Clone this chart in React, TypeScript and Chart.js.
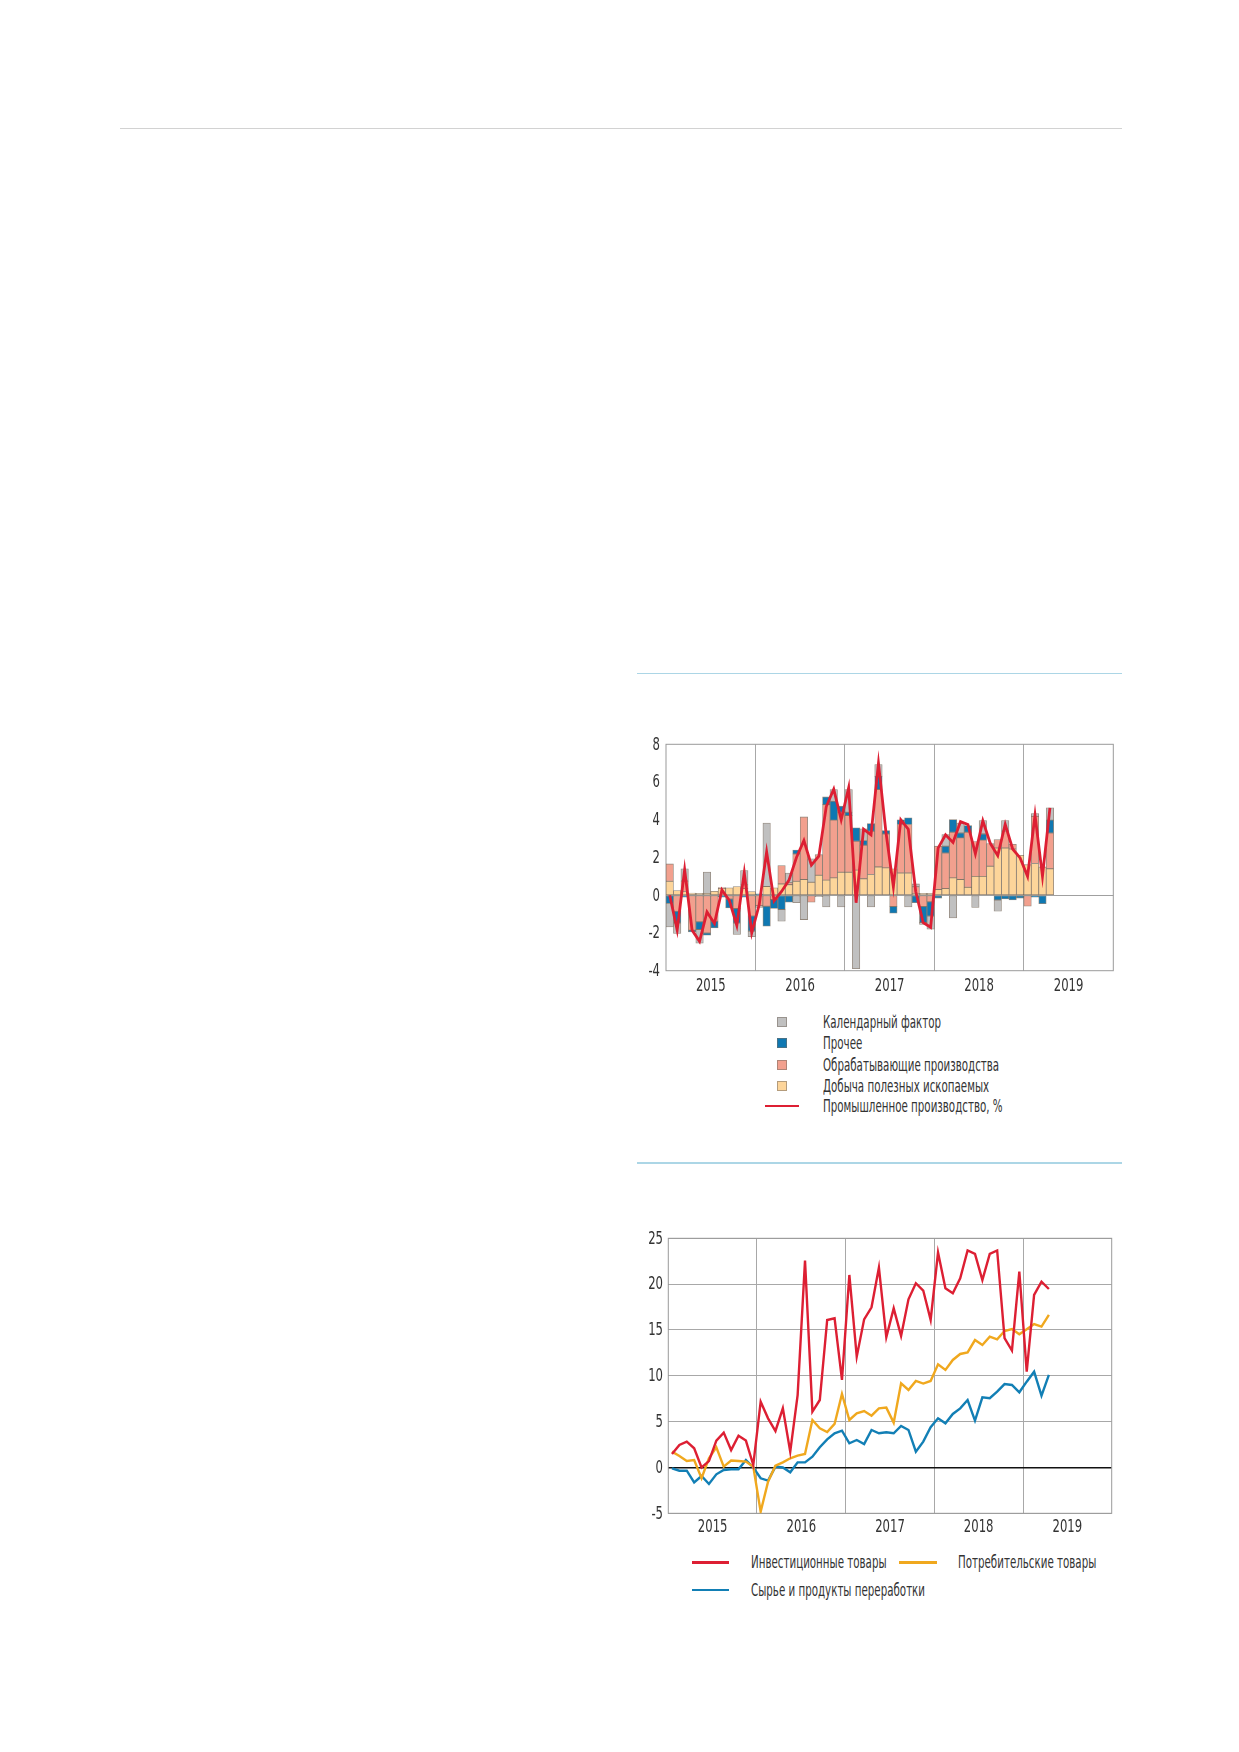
import React, { useEffect, useRef } from 'react';
import { Chart, registerables } from 'chart.js';

Chart.register(...registerables);

// ---------- categories ----------
const YEARS = ['2015', '2016', '2017', '2018', '2019'];
const MONTHS = YEARS.flatMap((y) =>
  ['01', '02', '03', '04', '05', '06', '07', '08', '09', '10', '11', '12'].map((m) => `${y}-${m}`)
).slice(0, 52);

// ---------- chart 1: contributions, p.p. ----------
const MINING = [0.74, 0.25, 0.2, 0.12, 0.1, 0.1, 0.21, 0.35, 0.39, 0.46, 0.35, 0.2, 0.0,
  0.46, 0.39, 0.6, 0.56, 0.74, 0.83, 0.69, 1.06, 0.8, 0.92, 1.22,
  1.22, 1.33, 0.87, 1.1, 1.5, 1.45, 1.4, 1.18, 1.18, 0.1, 0.1, 0.1,
  0.3, 0.35, 0.92, 0.83, 0.42, 1.0, 1.0, 1.54, 2.5, 2.5, 2.45, 2.12,
  1.62, 1.68, 1.5, 1.4];
const MANUF = [0.92, -0.85, 0.55, -1.85, -1.41, -2.0, -1.38, 0.05, -0.2, -0.7, 0.2, -1.1, -0.55,
  -0.58, -0.23, 0.97, 0.1, 1.45, 3.32, -0.37, 1.09, 4.0, 3.06, 3.18,
  3.0, 1.53, 1.78, 2.29, 4.1, 1.8, -0.6, 2.57, 2.57, 0.35, -0.6, -0.35,
  2.3, 1.89, 2.42, 2.21, 2.92, 1.85, 1.92, 1.2, 0.45, 0.9, 0.25, 0,
  -0.58, 2.5, 0, 1.9];
const OTHER = [-0.44, -0.62, -0.1, -0.1, -0.41, -0.12, -0.35, -0.1, -0.47, -0.77, -0.1, -0.8, 0.08,
  -1.06, -0.47, -0.76, -0.37, 0.2, 0, 0, 0, 0.41, 1.0, 0.32,
  0.18, 0.71, 0.25, 0.41, 0.7, 0.18, -0.35, 0.25, 0.35, -0.4, -0.85, -0.75,
  -0.15, 0.36, 0.67, 0.26, 0.35, 0, 0.33, 0, -0.25, -0.2, -0.25, -0.15,
  0, -0.1, -0.45, 0.68];
const CALENDAR = [-1.24, -0.56, 0.65, 0, -0.72, 1.13, 0, 0, 0, -0.61, 0.76, -0.3, -0.1,
  3.37, 0, -0.62, 0.52, -0.4, -1.29, 1.24, -0.08, -0.62, 0.62, -0.62,
  1.2, -3.89, 0.62, -0.62, 0.63, 0, 0, 0, -0.62, 0.15, -0.1, -0.7,
  0, 0.62, -1.2, 0.53, 0, -0.65, 0.71, 0, -0.6, 0.56, 0, 0,
  0, 0.15, 0, 0.65];
const INDPROD = [0.0, -1.85, 1.35, -1.85, -2.44, -0.89, -1.5, 0.28, -0.28, -1.6, 1.2, -2.0, -0.5,
  2.3, -0.3, 0.2, 0.8, 2.0, 2.9, 1.6, 2.07, 4.7, 5.62, 4.0,
  5.7, -0.4, 3.5, 3.2, 7.0, 3.35, 0.45, 4.0, 3.5, 0.2, -1.45, -1.7,
  2.5, 3.2, 2.8, 3.9, 3.75, 2.2, 3.95, 2.75, 2.1, 3.76, 2.45, 1.98,
  1.0, 4.25, 1.0, 4.63];

// ---------- chart 2: output growth, % ----------
const INVEST = [1.47, 2.45, 2.82, 2.09, 0.0, 0.7, 2.93, 3.8, 1.9, 3.47, 2.93, 0.27,
  7.18, 5.36, 3.98, 6.45, 1.73, 7.9, 22.56, 6.09, 7.36, 16.09, 16.27, 9.55,
  21.0, 12.09, 16.16, 17.47, 21.8, 14.2, 17.36, 14.35, 18.35, 20.1, 19.3, 16.1,
  23.45, 19.55, 19.0, 20.64, 23.67, 23.3, 20.45, 23.3, 23.67, 14.1, 12.75, 21.36,
  10.45, 18.82, 20.27, 19.47];
const CONSUMER = [1.73, 1.25, 0.71, 0.82, -1.18, 1.0, 2.2, 0.09, 0.75, 0.71, 0.64, 0.09,
  -4.82, -1.55, 0.2, 0.56, 1.0, 1.3, 1.47, 5.18, 4.27, 3.87, 4.75, 8.02,
  5.18, 5.91, 6.16, 5.65, 6.45, 6.53, 4.89, 9.18, 8.45, 9.44, 9.15, 9.44,
  11.25, 10.64, 11.73, 12.38, 12.56, 13.9, 13.36, 14.27, 13.98, 14.89, 15.1, 14.53,
  15.07, 15.65, 15.36, 16.64];
const RAW = [-0.09, -0.35, -0.35, -1.62, -0.93, -1.8, -0.75, -0.27, -0.2, -0.2, 0.82, 0.0,
  -1.18, -1.44, 0.09, 0.0, -0.53, 0.56, 0.56, 1.18, 2.2, 3.07, 3.73, 4.02,
  2.64, 3.0, 2.56, 4.09, 3.73, 3.84, 3.73, 4.53, 4.09, 1.73, 2.82, 4.4,
  5.36, 4.82, 5.84, 6.45, 7.36, 5.11, 7.65, 7.55, 8.27, 9.1, 9.0, 8.2,
  9.36, 10.45, 7.84, 10.1];

const LEGEND1 = ['Календарный фактор', 'Прочее', 'Обрабатывающие производства', 'Добыча полезных ископаемых', 'Промышленное производство, %'];
const LEGEND2 = ['Инвестиционные товары', 'Потребительские товары', 'Сырье и продукты переработки'];

// ---------- styles ----------
const FONT = "'Liberation Sans Narrow', 'DejaVu Sans Condensed', 'Roboto', sans-serif";
const TXT = '#333333';
const C_GREY = '#c0c0c0';
const C_BLUE = '#0f78b2';
const C_PINK = '#f2a08e';
const C_YELLOW = '#fdd59a';
const C_RED = '#dd1f33';
const C_ORANGE = '#f0a81e';
const C_LBLUE = '#127fb5';
const BAR_EDGE = 'rgba(110,95,80,0.75)';
const GRID = '#a8a8a8';
const TICK_SIZE = 18.5;
const SX_TICK = 0.7;
const LEG_SIZE = 18;
const SX_LEG = 0.635;

const pts = (arr: number[]) => arr.map((v, i) => ({ x: i + 0.5, y: v === 0 ? null : v }));
const ptsLine = (arr: number[]) => arr.map((v, i) => ({ x: i + 0.5, y: v }));

const yearTick = (v: any) => {
  const n = Number(v);
  return n % 12 === 6 ? YEARS[(n - 6) / 12] : '';
};
const yearGrid = (c: any) => {
  const v = c.tick && c.tick.value;
  return v > 0 && v < 60 && v % 12 === 0 ? GRID : 'rgba(0,0,0,0)';
};

const framePlugin = {
  id: 'frame',
  beforeDatasetsDraw(chart: any) {
    const { ctx, chartArea: a } = chart;
    ctx.save();
    ctx.strokeStyle = '#9a9a9a';
    ctx.lineWidth = 1;
    ctx.strokeRect(a.left, a.top, a.right - a.left, a.bottom - a.top);
    ctx.restore();
  },
};

// draws the scales' tick labels in a condensed form (the reference uses a narrow typeface)
const tickTextPlugin = {
  id: 'tickText',
  afterDraw(chart: any, _args: any, opts: any) {
    const ctx = chart.ctx;
    const xs = chart.scales.x;
    const ys = chart.scales.y;
    ctx.save();
    ctx.font = `${TICK_SIZE}px ${FONT}`;
    ctx.fillStyle = TXT;
    ctx.textBaseline = 'middle';
    ctx.textAlign = 'center';
    xs.ticks.forEach((t: any) => {
      const label = yearTick(t.value);
      if (!label) return;
      ctx.save();
      ctx.translate(xs.getPixelForValue(t.value), xs.top + opts.xGap);
      ctx.scale(SX_TICK, 1);
      ctx.fillText(label, 0, 0);
      ctx.restore();
    });
    ctx.textAlign = 'right';
    ys.ticks.forEach((t: any) => {
      ctx.save();
      ctx.translate(ys.right - opts.yGap, ys.getPixelForValue(t.value) + 0.5);
      ctx.scale(SX_TICK, 1);
      ctx.fillText(String(t.value), 0, 0);
      ctx.restore();
    });
    ctx.restore();
  },
};

function xScale(height: number) {
  return {
    type: 'linear',
    min: 0,
    max: 60,
    offset: false,
    stacked: true,
    ticks: { display: false, stepSize: 6, autoSkip: false, maxRotation: 0 },
    grid: { drawTicks: false, offset: false, color: yearGrid, lineWidth: 1 },
    border: { display: false },
    afterFit: (s: any) => { s.height = height; },
  };
}

function BarChart() {
  const ref = useRef<HTMLCanvasElement>(null);
  useEffect(() => {
    const bar = (label: string, data: number[], color: string) => ({
      type: 'bar', label, data: pts(data), backgroundColor: color, borderColor: BAR_EDGE,
      borderWidth: 0.8, borderSkipped: false, stack: 'comp', order: 1,
      barPercentage: 1, categoryPercentage: 1,
    });
    const chart = new Chart(ref.current as HTMLCanvasElement, {
      type: 'bar',
      data: {
        labels: MONTHS,
        datasets: [
          { type: 'line', label: LEGEND1[4], data: ptsLine(INDPROD), borderColor: C_RED, borderWidth: 2.8, pointRadius: 0, tension: 0, stack: 'line', order: 0 } as any,
          bar(LEGEND1[3], MINING, C_YELLOW),
          bar(LEGEND1[2], MANUF, C_PINK),
          bar(LEGEND1[1], OTHER, C_BLUE),
          bar(LEGEND1[0], CALENDAR, C_GREY),
        ],
      },
      options: {
        responsive: false,
        animation: false,
        layout: { padding: { top: 10.3, right: 6.7, left: 0, bottom: 0 } },
        plugins: { legend: { display: false }, tooltip: { enabled: false }, tickText: { xGap: 15.3, yGap: 6 } },
        scales: {
          x: xScale(29.3) as any,
          y: {
            stacked: true, min: -4, max: 8,
            ticks: { display: false, stepSize: 2 },
            grid: { drawTicks: false, color: (c: any) => (c.tick.value === 0 ? '#a0a0a0' : 'rgba(0,0,0,0)') },
            border: { display: false },
            afterFit: (s: any) => { s.width = 46; },
          } as any,
        },
      } as any,
      plugins: [framePlugin, tickTextPlugin],
    });
    return () => chart.destroy();
  }, []);
  return <canvas ref={ref} width={500} height={266} style={{ position: 'absolute', left: 620, top: 734, width: 500, height: 266 }} />;
}

function LineChart() {
  const ref = useRef<HTMLCanvasElement>(null);
  useEffect(() => {
    const line = (label: string, data: number[], color: string) => ({
      label, data: ptsLine(data), borderColor: color, borderWidth: 2.4, pointRadius: 0, tension: 0,
    });
    const chart = new Chart(ref.current as HTMLCanvasElement, {
      type: 'line',
      data: {
        labels: MONTHS,
        datasets: [
          line(LEGEND2[0], INVEST, C_RED),
          line(LEGEND2[1], CONSUMER, C_ORANGE),
          line(LEGEND2[2], RAW, C_LBLUE),
        ],
      },
      options: {
        responsive: false,
        animation: false,
        layout: { padding: { top: 10.3, right: 8.3, left: 0, bottom: 0 } },
        plugins: { legend: { display: false }, tooltip: { enabled: false }, tickText: { xGap: 13.4, yGap: 5.3 } },
        scales: {
          x: { ...(xScale(31.7) as any), stacked: false },
          y: {
            min: -5, max: 25,
            ticks: { display: false, stepSize: 5 },
            grid: {
              drawTicks: false,
              color: (c: any) => (c.tick.value === 0 ? '#111111' : GRID),
              lineWidth: (c: any) => (c.tick.value === 0 ? 1.4 : 1),
            },
            border: { display: false },
            afterFit: (s: any) => { s.width = 48.3; },
          } as any,
        },
      } as any,
      plugins: [framePlugin, tickTextPlugin],
    });
    return () => chart.destroy();
  }, []);
  return <canvas ref={ref} width={500} height={317} style={{ position: 'absolute', left: 620, top: 1228, width: 500, height: 317 }} />;
}

const textStyle: React.CSSProperties = {
  position: 'absolute', fontFamily: FONT, fontSize: LEG_SIZE, color: TXT, whiteSpace: 'nowrap',
  lineHeight: '20px', transform: `scaleX(${SX_LEG})`, transformOrigin: 'left center',
};

function Swatch({ x, y, color }: { x: number; y: number; color: string }) {
  return <div style={{ position: 'absolute', left: x, top: y - 5, width: 10, height: 10, background: color, boxSizing: 'border-box', border: '1px solid rgba(120,110,100,0.55)' }} />;
}
function LineSwatch({ x, y, w, color }: { x: number; y: number; w: number; color: string }) {
  return <div style={{ position: 'absolute', left: x, top: y - 1, width: w, height: 2.4, background: color }} />;
}
function Label({ x, y, text }: { x: number; y: number; text: string }) {
  return <div style={{ ...textStyle, left: x, top: y - 10 }}>{text}</div>;
}

export default function App() {
  const rows1 = [1022.3, 1043.3, 1065, 1086, 1105.7];
  const cols1 = [C_GREY, C_BLUE, C_PINK, C_YELLOW];
  return (
    <div style={{ position: 'absolute', left: 0, top: 0, width: 1239, height: 1752, background: '#fff' }}>
      <div style={{ position: 'absolute', left: 120, top: 128, width: 1002, height: 1, background: '#d2d2d2' }} />
      <div style={{ position: 'absolute', left: 637, top: 672.5, width: 485, height: 1.5, background: '#acd6e6' }} />
      <div style={{ position: 'absolute', left: 637, top: 1162, width: 485, height: 1.5, background: '#acd6e6' }} />

      <BarChart />
      {cols1.map((c, i) => <Swatch key={i} x={777} y={rows1[i]} color={c} />)}
      <LineSwatch x={765} y={rows1[4]} w={34} color={C_RED} />
      {LEGEND1.map((t, i) => <Label key={t} x={823} y={rows1[i]} text={t} />)}

      <LineChart />
      <LineSwatch x={692} y={1562.3} w={37} color={C_RED} />
      <Label x={751} y={1562.3} text={LEGEND2[0]} />
      <LineSwatch x={899} y={1562.3} w={38} color={C_ORANGE} />
      <Label x={958} y={1562.3} text={LEGEND2[1]} />
      <LineSwatch x={692} y={1590} w={37} color={C_LBLUE} />
      <Label x={751} y={1590} text={LEGEND2[2]} />
    </div>
  );
}
